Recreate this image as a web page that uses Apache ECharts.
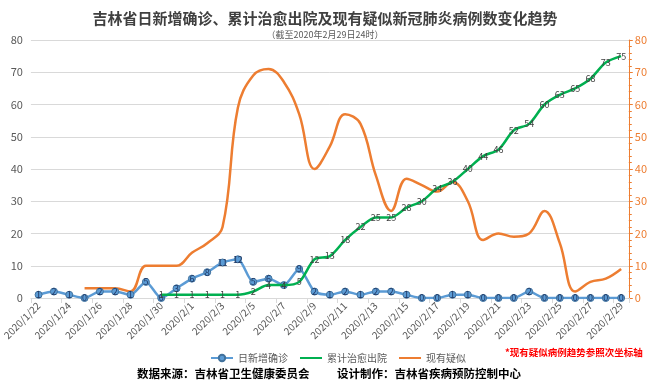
<!DOCTYPE html>
<html>
<head>
<meta charset="utf-8">
<script src="https://cdn.jsdelivr.net/npm/echarts@6/dist/echarts.min.js"></script>
<style>html,body{margin:0;padding:0;background:#fff;}#c{width:650px;height:384px;}</style>
</head>
<body>
<div id="c"></div>
<script>
const categories = ['2020/1/22','2020/1/23','2020/1/24','2020/1/25','2020/1/26','2020/1/27','2020/1/28','2020/1/29','2020/1/30','2020/1/31',
  '2020/2/1','2020/2/2','2020/2/3','2020/2/4','2020/2/5','2020/2/6','2020/2/7','2020/2/8','2020/2/9','2020/2/10',
  '2020/2/11','2020/2/12','2020/2/13','2020/2/14','2020/2/15','2020/2/16','2020/2/17','2020/2/18','2020/2/19','2020/2/20',
  '2020/2/21','2020/2/22','2020/2/23','2020/2/24','2020/2/25','2020/2/26','2020/2/27','2020/2/28','2020/2/29'];
const dailyNew = [1,2,1,0,2,2,1,5,0,3,6,8,11,12,5,6,4,9,2,1,2,1,2,2,1,0,0,1,1,0,0,0,2,0,0,0,0,0,0];
const cumDischarged = [null,null,null,null,null,null,null,null,1,1,1,1,1,1,2,4,4,5,12,13,18,22,25,25,28,30,34,36,40,44,46,52,54,60,63,65,68,73,75];
const suspected = [null,null,null,3,3,3,2,10,10,10,14,17,22,59,69,71,67,57,40,47,57,54,38,27,37,35,33,36,30,18,20,19,20,27,17,2,5,6,9];
const leftTicks = {min:0, max:80, interval:10};
const rightTicks = {min:0, max:80, interval:10};

const chart = echarts.init(document.getElementById('c'), null, {renderer:'canvas'});
const FONT = '"Microsoft YaHei","Noto Sans CJK SC",sans-serif';
const LINE_ICON = 'path://M0,0 L0,0.01 M0,3 L22,3 L22,5 L0,5 Z M22,7.99 L22,8';
chart.setOption({
  animation:false,
  textStyle:{fontFamily:FONT},
  title:[
    {text:'吉林省日新增确诊、累计治愈出院及现有疑似新冠肺炎病例数变化趋势', left:'center', top:6,
     textStyle:{fontSize:15, fontWeight:'bold', color:'#404040', fontFamily:FONT}},
    {text:'（截至2020年2月29日24时）', left:'center', top:25,
     textStyle:{fontSize:9, fontWeight:'normal', color:'#595959', fontFamily:FONT}}
  ],
  legend:{
    left:205, top:348, itemWidth:22, itemHeight:8, itemGap:12,
    textStyle:{fontSize:10, color:'#595959', fontFamily:FONT},
    data:[
      {name:'日新增确诊'},
      {name:'累计治愈出院', icon:LINE_ICON},
      {name:'现有疑似', icon:LINE_ICON}
    ]
  },
  grid:{left:25, right:20, top:40, bottom:86, containLabel:false},
  xAxis:{
    type:'category', data:categories, boundaryGap:true,
    axisLine:{lineStyle:{color:'#d9d9d9'}},
    axisTick:{show:true, lineStyle:{color:'#d9d9d9'}},
    axisLabel:{interval:1, rotate:45, fontSize:10, color:'#595959', margin:6, fontFamily:FONT}
  },
  yAxis:[
    {type:'value', min:leftTicks.min, max:leftTicks.max, interval:leftTicks.interval,
     axisLine:{show:false}, axisTick:{show:false},
     axisLabel:{fontSize:11, color:'#595959', margin:8},
     splitLine:{lineStyle:{color:'#d9d9d9'}}},
    {type:'value', position:'right', min:rightTicks.min, max:rightTicks.max, interval:rightTicks.interval,
     axisLine:{show:true, lineStyle:{color:'#ED7D31'}},
     axisTick:{show:true, length:4, lineStyle:{color:'#ED7D31'}},
     minorTick:{show:true, splitNumber:5, length:3, lineStyle:{color:'#ED7D31'}},
     axisLabel:{fontSize:11, color:'#ED7D31', margin:6},
     splitLine:{show:false}}
  ],
  series:[
    {name:'日新增确诊', type:'line', data:dailyNew, yAxisIndex:0, smooth:0.25, z:3,
     symbol:'circle', symbolSize:7,
     lineStyle:{color:'#5B9BD5', width:2.5},
     itemStyle:{color:'#5B9BD5', borderColor:'#41719C', borderWidth:1},
     label:{show:true, position:'inside', fontSize:9, color:'#203864'}},
    {name:'累计治愈出院', type:'line', data:cumDischarged, yAxisIndex:0, smooth:0.3, z:4,
     symbol:'circle', symbolSize:0.01, showSymbol:true, connectNulls:false,
     lineStyle:{color:'#00B050', width:2.5},
     itemStyle:{color:'#00B050'},
     label:{show:true, position:'inside', fontSize:9, color:'#404040'}},
    {name:'现有疑似', type:'line', data:suspected, yAxisIndex:1, smooth:0.4, z:2,
     symbol:'none', showSymbol:false,
     lineStyle:{color:'#ED7D31', width:2.5},
     itemStyle:{color:'#ED7D31'}}
  ],
  graphic:[
    {type:'text', left:505, top:348, style:{text:'*现有疑似病例趋势参照次坐标轴', fill:'#FF0000', font:'bold 9.5px '+FONT}},
    {type:'text', left:137, top:368, style:{text:'数据来源：吉林省卫生健康委员会', fill:'#000', font:'bold 11.5px '+FONT}},
    {type:'text', left:337, top:368, style:{text:'设计制作：吉林省疾病预防控制中心', fill:'#000', font:'bold 11.5px '+FONT}}
  ]
});
</script>
</body>
</html>
